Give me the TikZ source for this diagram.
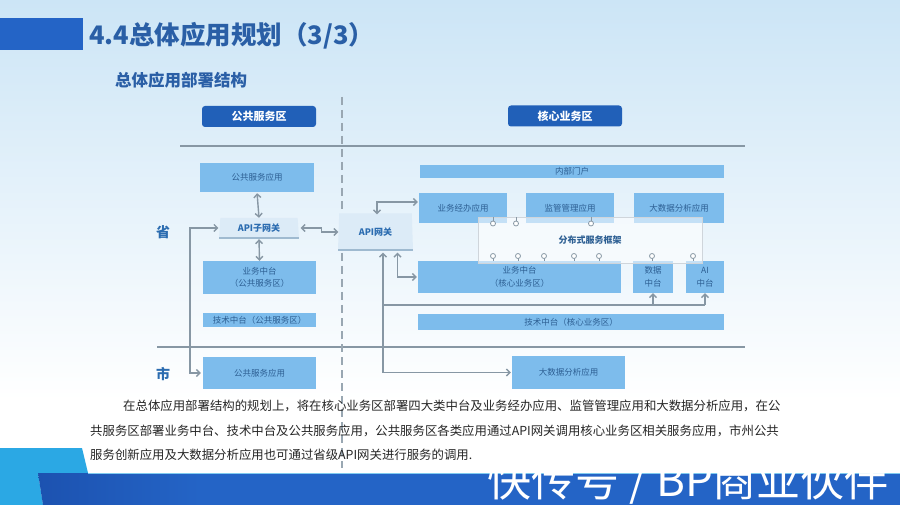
\documentclass[tikz,border=0pt]{standalone}
\usepackage{fontspec}
\setmainfont{Noto Sans CJK SC}
\usetikzlibrary{arrows.meta,shapes.geometric}
\definecolor{bgA}{HTML}{CCE5F6}
\definecolor{bgB}{HTML}{E6F2FB}
\definecolor{boxblue}{HTML}{7DBCEC}
\definecolor{boxtext}{HTML}{2D5F93}
\definecolor{hdrblue}{HTML}{2160B8}
\definecolor{linegray}{HTML}{8797A4}
\definecolor{titleblue}{HTML}{2A5FA6}
\definecolor{barblue}{HTML}{2464C6}
\definecolor{bardark}{HTML}{1C52B0}
\definecolor{cyanbar}{HTML}{2BA8E4}
\definecolor{apifill}{HTML}{DCEBF7}
\definecolor{apiline}{HTML}{9FBAD0}
\definecolor{labelblue}{HTML}{2B6CB0}
\definecolor{bodytext}{HTML}{262626}
\begin{document}
\begin{tikzpicture}[x=1pt,y=-1pt,
  box/.style={fill=boxblue,text=boxtext,inner sep=0pt,align=center,
    font=\fontsize{8.5}{12.5}\selectfont},
  header/.style={fill=hdrblue,rounded corners=3pt,text=white,inner sep=0pt,
    minimum width=114pt,minimum height=21pt,font=\fontsize{11}{13}\selectfont\bfseries},
  apishape/.style={trapezium,trapezium stretches body,fill=apifill,inner sep=0pt,
    text=labelblue,font=\fontsize{9}{11}\selectfont\bfseries},
  conn/.style={draw=linegray,line width=1.4pt},
  arr/.style={conn,-{Straight Barb[length=3.5pt,width=7pt]}},
  darr/.style={conn,{Straight Barb[length=3.5pt,width=7pt]}-{Straight Barb[length=3.5pt,width=7pt]}},
  port/.style={draw=linegray,fill=white,line width=0.8pt},
  sidelabel/.style={text=labelblue,font=\fontsize{14}{16}\selectfont\bfseries},
  bodyline/.style={anchor=west,text=bodytext,inner sep=0pt,font=\fontsize{12.4}{14}\selectfont}
]
\useasboundingbox (0,0) rectangle (900,505);
% background
\fill[bgA] (0,0) rectangle (900,505);
\shade[top color=bgA, middle color=bgB, bottom color=white] (0,0) rectangle (900,400);
\fill[white] (0,399) rectangle (900,473);
% title
\fill[barblue] (0,18) rectangle (83,50);
\node[anchor=west,text=titleblue,inner sep=0pt,font=\fontsize{25.5}{27}\selectfont\bfseries] (title) at (89,36) {4.4总体应用规划（3/3）};
\node[anchor=west,text=titleblue,inner sep=0pt,font=\fontsize{16.5}{18}\selectfont\bfseries] (subtitle) at (115,80) {总体应用部署结构};
% zone headers
\node[header] (hpub) at (259,116.5) {公共服务区};
\node[header] (hcore) at (565,116) {核心业务区};
% separators
\draw[linegray,line width=1.5pt] (180,146) -- (745,146);
\draw[linegray,line width=1.5pt] (157,347) -- (745,347);
\draw[linegray!85,line width=1.4pt,dash pattern=on 8pt off 5pt] (342,97) -- (342,468);
% side labels
\node[sidelabel] (sheng) at (163,232) {省};
\node[sidelabel] (shi) at (163,374) {市};
% public zone
\node[box,minimum width=114pt,minimum height=29pt] (pubapp) at (257,177.5) {公共服务应用};
\node[apishape,trapezium angle=81,minimum width=80pt,minimum height=20pt] (apisub) at (259,228) {API子网关};
\draw[apiline,line width=2.5pt] (219,238) -- (299,238);
\node[box,minimum width=113pt,minimum height=33pt] (pubmid) at (259.5,277.5) {业务中台\\（公共服务区）};
\node[box,minimum width=113pt,minimum height=14pt] (pubtech) at (259.5,320) {技术中台（公共服务区）};
\node[box,minimum width=113pt,minimum height=32pt] (citypub) at (259.5,373) {公共服务应用};
% core zone
\node[box,minimum width=304pt,minimum height=13pt] (portal) at (572,171.5) {内部门户};
\node[box,minimum width=88pt,minimum height=30pt] (biz) at (463,208) {业务经办应用};
\node[box,minimum width=88pt,minimum height=30pt] (sup) at (570,208) {监管管理应用};
\node[box,minimum width=90pt,minimum height=30pt] (bigd) at (679,208) {大数据分析应用};
\node[box,minimum width=203pt,minimum height=32pt] (coremid) at (519.5,277) {业务中台\\（核心业务区）};
\node[box,minimum width=40pt,minimum height=32pt] (datamid) at (653,277) {数据\\中台};
\node[box,minimum width=38pt,minimum height=32pt] (aimid) at (705,277) {AI\\中台};
\node[box,minimum width=306pt,minimum height=16pt] (coretech) at (571,322) {技术中台（核心业务区）};
\node[box,minimum width=113pt,minimum height=33pt] (citybig) at (568.5,372.5) {大数据分析应用};
% service framework
\node[draw=linegray!40,fill=white,fill opacity=0.55,text opacity=1,minimum width=224pt,minimum height=46pt,inner sep=0pt,
  text=boxtext,font=\fontsize{9}{11}\selectfont\bfseries] (frame) at (590,240) {分布式服务框架};
\foreach \x in {493,516,591} {
  \draw[linegray,line width=0.8pt] (\x,217.5) -- (\x,221);
  \draw[port] (\x,223.5) circle[radius=2.5pt];
}
\foreach \x in {493,518,544,574,599,652,693} {
  \draw[linegray,line width=0.8pt] (\x,258.5) -- (\x,261.5);
  \draw[port] (\x,256) circle[radius=2.5pt];
}
% API gateway
\node[apishape,trapezium angle=82,minimum width=75pt,minimum height=37pt] (apigw) at (375.5,232) {API网关};
\draw[apiline,line width=2.5pt] (338,250) -- (413,250);
% connectors
\coordinate (leftbus) at (190,300);
\coordinate (bj) at (383,305);
\draw[darr,shorten <=1pt] (pubapp.south) -- (apisub.north);
\draw[darr] ([yshift=-1pt]apisub.south) -- (pubmid.north);
\draw[darr,shorten <=1pt] (apisub.west) -| (leftbus) |- ([xshift=-2pt]citypub.west);
\draw[darr,shorten <=2pt] (apisub.east) -- ++(23,0) |- (apigw.west);
\draw[darr,shorten >=1pt] ([xshift=1.5pt,yshift=-1pt]apigw.north) |- ([yshift=6pt]biz.west);
\draw[darr,shorten >=1pt] ([xshift=22pt,yshift=-2pt]apigw.south) |- (coremid.west);
\draw[darr,shorten >=1pt] ([xshift=7.5pt,yshift=-2pt]apigw.south) |- (citybig.west);
\draw[conn] (bj) -- (aimid.south |- bj);
\draw[arr] (datamid.south |- bj) -- (datamid.south);
\draw[arr] (aimid.south |- bj) -- (aimid.south);
% body text
\node[bodyline] (l1) at (123,406) {在总体应用部署结构的规划上，将在核心业务区部署四大类中台及业务经办应用、监管管理应用和大数据分析应用，在公};
\node[bodyline] (l2) at (90,431) {共服务区部署业务中台、技术中台及公共服务应用，公共服务区各类应用通过API网关调用核心业务区相关服务应用，市州公共};
\node[bodyline] (l3) at (90,455) {服务创新应用及大数据分析应用也可通过省级API网关进行服务的调用.};
% bottom bar
\fill[cyanbar] (0,448) -- (82,448) -- (88,473) -- (38,473) -- (43,505) -- (0,505) -- cycle;
\shade[left color=bardark, right color=barblue] (38,473) -- (200,473) -- (200,505) -- (43,505) -- cycle;
\fill[barblue] (199.5,473) rectangle (900,505);
\draw[cyanbar!60,line width=1pt] (88,473) -- (900,473);
% watermark
\begin{scope}
\clip (0,0) rectangle (900,505);
\node[anchor=north west,text=white,inner sep=0pt,font=\fontsize{44}{46}\selectfont] (wm) at (487,459) {快传号 / BP商业伙伴};
\end{scope}
\end{tikzpicture}
\end{document}
